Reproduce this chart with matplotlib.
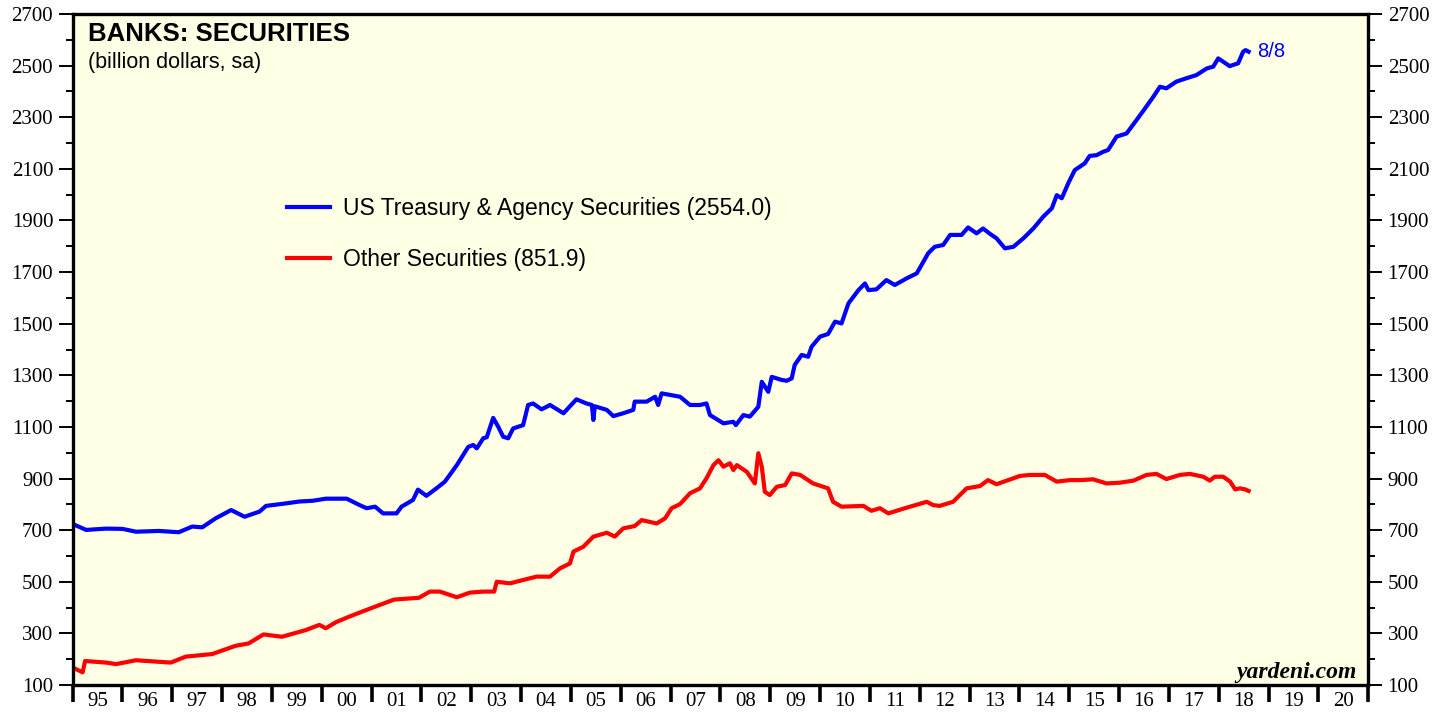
import matplotlib
matplotlib.use("Agg")
import matplotlib.pyplot as plt
from matplotlib.ticker import FixedLocator, NullFormatter

# US Treasury & Agency Securities (billion dollars)
treasury_t = [
    1995.00, 1995.27, 1995.67, 1996.00, 1996.27, 1996.73, 1997.13, 1997.40, 1997.60, 1997.87,
    1998.18, 1998.45, 1998.75, 1998.88, 1999.29, 1999.55, 1999.82, 2000.08, 2000.50, 2000.75,
    2000.90, 2001.07, 2001.23, 2001.50, 2001.60, 2001.83, 2001.93, 2002.10, 2002.30, 2002.47,
    2002.71, 2002.94, 2003.04, 2003.11, 2003.24, 2003.31, 2003.44, 2003.54, 2003.64, 2003.74,
    2003.84, 2004.04, 2004.14, 2004.24, 2004.41, 2004.58, 2004.85, 2005.11, 2005.31, 2005.42,
    2005.45, 2005.48, 2005.72, 2005.85, 2006.05, 2006.25, 2006.28, 2006.52, 2006.69, 2006.75,
    2006.82, 2007.19, 2007.39, 2007.59, 2007.72, 2007.79, 2008.06, 2008.26, 2008.31, 2008.46,
    2008.59, 2008.76, 2008.83, 2008.96, 2009.03, 2009.23, 2009.33, 2009.43, 2009.49, 2009.63,
    2009.76, 2009.83, 2010.00, 2010.16, 2010.30, 2010.43, 2010.57, 2010.77, 2010.90, 2010.97,
    2011.13, 2011.33, 2011.50, 2011.74, 2011.94, 2012.17, 2012.30, 2012.47, 2012.61, 2012.84,
    2012.97, 2013.14, 2013.27, 2013.41, 2013.54, 2013.71, 2013.88, 2014.08, 2014.28, 2014.48,
    2014.65, 2014.75, 2014.85, 2014.98, 2015.11, 2015.31, 2015.41, 2015.55, 2015.68, 2015.78,
    2015.95, 2016.15, 2016.35, 2016.52, 2016.69, 2016.82, 2016.95, 2017.15, 2017.35, 2017.55,
    2017.76, 2017.89, 2017.99, 2018.09, 2018.22, 2018.39, 2018.49, 2018.54, 2018.60,
]
treasury = [
    724, 701, 706, 705, 694, 697, 692, 714, 711, 746,
    778, 752, 772, 794, 804, 811, 814, 822, 822, 798,
    785, 791, 765, 765, 791, 817, 857, 833, 862, 888,
    952, 1023, 1030, 1017, 1056, 1060, 1135, 1101, 1062, 1056,
    1094, 1107, 1185, 1191, 1168, 1185, 1153, 1207, 1191, 1185,
    1127, 1180, 1166, 1142, 1153, 1166, 1198, 1198, 1217, 1185,
    1230, 1217, 1185, 1185, 1191, 1146, 1114, 1120, 1107, 1146,
    1140, 1178, 1275, 1236, 1294, 1282, 1279, 1288, 1340, 1379,
    1372, 1411, 1450, 1460, 1508, 1501, 1579, 1630, 1656, 1630,
    1633, 1669, 1650, 1676, 1695, 1773, 1798, 1805, 1844, 1844,
    1873, 1850, 1869, 1848, 1831, 1792, 1798, 1831, 1869, 1915,
    1947, 1998, 1986, 2044, 2095, 2121, 2150, 2153, 2166, 2173,
    2225, 2237, 2289, 2334, 2380, 2418, 2412, 2438, 2451, 2463,
    2489, 2496, 2528, 2515, 2498, 2509, 2554, 2560, 2554.0,
]

# Other Securities (billion dollars)
other_t = [
    1995.00, 1995.20, 1995.25, 1995.67, 1995.87, 1996.27, 1996.73, 1996.97, 1997.27, 1997.80,
    1998.27, 1998.53, 1998.83, 1999.20, 1999.68, 1999.95, 2000.08, 2000.28, 2000.55, 2001.02,
    2001.45, 2001.95, 2002.17, 2002.37, 2002.71, 2002.97, 2003.24, 2003.46, 2003.51, 2003.78,
    2004.04, 2004.31, 2004.58, 2004.78, 2004.98, 2005.05, 2005.25, 2005.45, 2005.72, 2005.88,
    2006.05, 2006.28, 2006.42, 2006.72, 2006.89, 2007.02, 2007.19, 2007.39, 2007.59, 2007.72,
    2007.86, 2007.96, 2008.06, 2008.19, 2008.26, 2008.33, 2008.53, 2008.69, 2008.76, 2008.83,
    2008.89, 2008.99, 2009.13, 2009.30, 2009.43, 2009.60, 2009.86, 2010.16, 2010.26, 2010.43,
    2010.87, 2011.03, 2011.20, 2011.37, 2011.70, 2012.14, 2012.27, 2012.40, 2012.67, 2012.94,
    2013.21, 2013.37, 2013.54, 2014.01, 2014.21, 2014.51, 2014.75, 2015.01, 2015.22, 2015.48,
    2015.75, 2016.02, 2016.29, 2016.55, 2016.75, 2016.95, 2017.22, 2017.42, 2017.69, 2017.82,
    2017.92, 2018.09, 2018.23, 2018.33, 2018.43, 2018.53, 2018.60,
]
other = [
    168, 149, 193, 187, 181, 196, 190, 187, 210, 220,
    252, 261, 296, 287, 313, 333, 320, 343, 365, 400,
    431, 438, 462, 462, 440, 458, 462, 462, 500, 494,
    507, 520, 520, 552, 571, 617, 636, 675, 690, 675,
    707, 716, 739, 726, 746, 785, 801, 843, 862, 901,
    952, 971, 946, 959, 933, 952, 926, 881, 998, 946,
    849, 836, 868, 875, 920, 914, 881, 862, 810, 791,
    794, 775, 785, 765, 785, 810, 797, 794, 810, 862,
    871, 894, 878, 910, 914, 914, 888, 894, 894, 897,
    881, 884, 892, 914, 918, 898, 914, 918, 907, 892,
    907, 907, 888, 858, 862, 858, 851.9,
]

years = list(range(1995, 2022))
year_labels = ["95", "96", "97", "98", "99", "00", "01", "02", "03", "04", "05", "06", "07",
               "08", "09", "10", "11", "12", "13", "14", "15", "16", "17", "18", "19", "20"]
last_date = "8/8"

BG = "#ffffe5"
SERIF = "Liberation Serif"
SANS = "Liberation Sans"

fig = plt.figure(figsize=(14.5, 7.17), dpi=100)
ax = fig.add_axes([0.0501, 0.0446, 0.8935, 0.9359])
ax.set_facecolor(BG)

ax.plot(treasury_t, treasury, color="#0000ff", lw=3.0, solid_joinstyle="round",
        label=f"US Treasury & Agency Securities ({treasury[-1]:.1f})")
ax.plot(other_t, other, color="#ff0000", lw=3.0, solid_joinstyle="round",
        label=f"Other Securities ({other[-1]:.1f})")

ax.set_xlim(years[0], years[-1])
ax.set_ylim(100, 2700)

# y axis: labels both sides, majors every 200 from 100
ax.yaxis.set_major_locator(FixedLocator(list(range(100, 2701, 200))))
ax.yaxis.set_minor_locator(FixedLocator(list(range(200, 2700, 200))))
ax.tick_params(axis="y", which="major", left=True, right=True, labelleft=True, labelright=True,
               direction="out", length=10, width=1.4, pad=4, labelsize=15)
ax.tick_params(axis="y", which="minor", left=True, right=True, direction="out", length=5, width=1.4)

# x axis: ticks at year boundaries, labels centred in each year
ax.xaxis.set_major_locator(FixedLocator(years))
ax.xaxis.set_major_formatter(NullFormatter())
ax.xaxis.set_minor_locator(FixedLocator([y + 0.5 for y in years[:-1]]))
ax.set_xticklabels(year_labels, minor=True)
ax.tick_params(axis="x", which="major", direction="out", length=12, width=2.6)
ax.tick_params(axis="x", which="minor", length=0, pad=5, labelsize=15)

for lab in ax.get_xticklabels(minor=True):
    lab.set_fontfamily(SERIF)
for t in ax.yaxis.get_major_ticks():
    t.label1.set_fontfamily(SERIF)
    t.label2.set_fontfamily(SERIF)

for spine in ax.spines.values():
    spine.set_linewidth(2.4)
    spine.set_color("black")

ax.text(0.0118, 0.970, "BANKS: SECURITIES", transform=ax.transAxes, fontsize=18.5,
        fontweight="bold", family=SANS, va="center", ha="left")
ax.text(0.0118, 0.927, "(billion dollars, sa)", transform=ax.transAxes, fontsize=15.5,
        family=SANS, va="center", ha="left")

leg = ax.legend(loc="upper left", bbox_to_anchor=(0.1654, 0.727), frameon=False,
                prop={"family": SANS, "size": 16.5}, handlelength=1.9, handletextpad=0.55,
                labelspacing=1.2, borderpad=0, borderaxespad=0)
for line in leg.get_lines():
    line.set_linewidth(3.0)

ax.annotate(last_date, xy=(treasury_t[-1], treasury[-1]), xytext=(6, 0),
            textcoords="offset points", color="#0000ff", fontsize=14.5, family=SANS,
            va="center", ha="left")

ax.text(0.9913, 0.0104, "yardeni.com", transform=ax.transAxes, fontsize=17,
        family=SERIF, fontweight="bold", fontstyle="italic", ha="right", va="baseline")

fig.savefig("out.png", dpi=100, facecolor="white")
